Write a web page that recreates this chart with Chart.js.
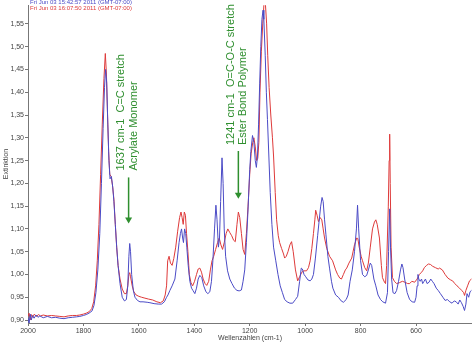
<!DOCTYPE html>
<html>
<head>
<meta charset="utf-8">
<script src="https://cdn.jsdelivr.net/npm/chart.js@4.4.1/dist/chart.umd.min.js"></script>
<style>
  html, body { margin: 0; padding: 0; background: #fff; }
  #wrap { width: 472px; height: 343px; }
</style>
</head>
<body>
<div id="wrap"><canvas id="myChart" width="472" height="343"></canvas></div>
<script>
// spectrum 1 (blue): wavenumber / absorbance
const wnBlue = [2000,1996,1992,1988,1984,1978,1971,1964,1957,1945,1930,1915,1900,1885,1870,1855,1840,1825,1813,1800,1790,1780,1769,1762,1755,1748,1741,1735,1729,1724,1720,1716,1712,1708,1704,1699,1694,1690,1685,1680,1675,1668,1660,1652,1645,1640,1636,1633,1630,1626,1620,1614,1605,1596,1585,1570,1560,1545,1530,1518,1508,1500,1495,1488,1480,1470,1462,1455,1450,1446,1442,1439,1435,1431,1427,1422,1416,1410,1405,1398,1392,1386,1380,1373,1366,1358,1351,1344,1338,1333,1327,1322,1318,1313,1309,1305,1300,1296,1292,1287,1280,1272,1264,1255,1246,1238,1230,1224,1218,1212,1207,1200,1196,1190,1185,1180,1176,1172,1168,1164,1160,1156,1152,1149,1144,1140,1136,1131,1126,1120,1114,1106,1098,1090,1082,1074,1065,1055,1045,1035,1027,1020,1014,1010,1004,998,990,982,976,970,963,955,950,944,939,935,930,925,918,912,905,900,890,880,870,862,852,845,838,830,822,815,811,807,800,793,785,778,772,765,760,752,745,737,728,720,710,703,699,695,692,688,683,676,670,663,656,651,647,641,632,623,614,605,600,596,593,590,585,580,576,571,566,560,553,547,541,535,527,520,512,503,495,487,478,470,462,455,448,442,436,430,425,420,416,410,405,400];
const absBlue = [0.905,0.893,0.913,0.900,0.910,0.904,0.911,0.906,0.909,0.905,0.908,0.905,0.906,0.904,0.903,0.905,0.906,0.907,0.908,0.910,0.912,0.915,0.920,0.932,0.960,1.010,1.090,1.200,1.320,1.410,1.450,1.420,1.330,1.250,1.210,1.215,1.190,1.160,1.110,1.060,1.020,0.980,0.950,0.942,0.945,0.975,1.040,1.068,1.050,1.000,0.965,0.950,0.943,0.940,0.940,0.939,0.938,0.936,0.935,0.935,0.940,0.950,0.955,0.965,0.975,0.990,1.030,1.070,1.090,1.100,1.080,1.070,1.100,1.090,1.060,1.020,0.985,0.970,0.965,0.958,0.970,0.990,0.998,0.993,0.975,0.962,0.958,0.962,0.985,1.030,1.100,1.152,1.120,1.060,1.080,1.160,1.256,1.200,1.100,1.040,1.008,0.990,0.980,0.970,0.965,0.964,0.966,0.985,1.010,1.070,1.131,1.230,1.270,1.305,1.290,1.250,1.235,1.260,1.330,1.420,1.500,1.560,1.580,1.560,1.480,1.400,1.340,1.260,1.180,1.110,1.060,1.030,1.000,0.975,0.960,0.945,0.940,0.937,0.937,0.945,0.952,0.985,1.014,1.012,1.000,0.995,0.988,0.986,0.990,1.000,1.036,1.085,1.115,1.150,1.169,1.160,1.120,1.087,1.040,1.014,0.985,0.970,0.955,0.950,0.942,0.939,0.945,0.955,0.985,1.010,1.050,1.100,1.152,1.100,1.030,1.000,0.995,0.998,1.010,1.025,1.020,0.990,0.975,0.955,0.945,0.940,0.937,0.960,1.050,1.144,1.060,0.990,0.960,0.958,0.965,0.985,1.010,1.023,1.015,0.990,0.960,0.945,0.940,0.939,0.950,0.975,1.000,0.990,0.985,0.990,0.980,0.985,0.990,0.980,0.983,0.990,0.985,0.980,0.970,0.965,0.958,0.950,0.943,0.945,0.940,0.937,0.942,0.940,0.935,0.944,0.938,0.930,0.921,0.935,0.958,0.950,0.962,0.965];

// spectrum 2 (red)
const wnRed = [2000,1996,1992,1988,1983,1977,1970,1962,1955,1945,1930,1915,1900,1885,1870,1855,1840,1825,1813,1800,1790,1780,1770,1763,1756,1750,1744,1738,1732,1726,1721,1717,1713,1709,1705,1700,1695,1690,1685,1680,1675,1668,1660,1652,1645,1640,1636,1633,1630,1624,1618,1610,1600,1590,1578,1565,1550,1535,1522,1512,1505,1500,1496,1491,1486,1480,1474,1467,1460,1453,1448,1444,1440,1436,1432,1428,1423,1418,1412,1406,1399,1392,1386,1380,1374,1368,1361,1355,1348,1342,1336,1330,1323,1316,1310,1304,1298,1292,1285,1279,1272,1265,1258,1252,1246,1241,1236,1230,1224,1218,1212,1206,1200,1195,1189,1185,1180,1175,1171,1167,1163,1158,1153,1148,1144,1139,1135,1130,1124,1118,1114,1108,1103,1097,1092,1085,1078,1074,1068,1062,1055,1049,1043,1035,1027,1020,1012,1005,995,988,982,976,970,965,962,957,952,946,940,935,930,922,912,901,890,883,875,869,862,855,850,842,832,822,814,810,805,798,793,785,778,772,765,757,750,745,740,732,725,721,713,710,706,700,697,695,693,690,685,678,670,660,649,640,630,623,615,605,596,588,580,576,570,562,555,548,540,530,520,515,505,495,485,475,468,460,452,443,435,428,425,420,414,407,400];
const absRed = [0.908,0.915,0.900,0.912,0.906,0.913,0.908,0.912,0.909,0.911,0.909,0.910,0.909,0.908,0.907,0.909,0.910,0.910,0.911,0.913,0.915,0.918,0.925,0.940,0.975,1.030,1.110,1.220,1.330,1.430,1.485,1.440,1.350,1.270,1.220,1.215,1.195,1.165,1.110,1.060,1.020,0.990,0.968,0.958,0.958,0.975,1.000,1.004,0.995,0.975,0.962,0.955,0.952,0.950,0.948,0.946,0.944,0.940,0.938,0.942,0.955,0.975,1.030,1.040,1.025,1.020,1.035,1.060,1.095,1.125,1.137,1.125,1.110,1.137,1.130,1.090,1.050,1.000,0.982,0.975,0.985,1.000,1.012,1.014,1.005,0.990,0.980,0.976,0.985,1.010,1.030,1.040,1.055,1.070,1.080,1.065,1.055,1.070,1.090,1.100,1.092,1.085,1.075,1.072,1.110,1.137,1.125,1.090,1.055,1.044,1.090,1.150,1.220,1.265,1.290,1.300,1.280,1.250,1.255,1.290,1.400,1.490,1.550,1.600,1.600,1.550,1.480,1.410,1.350,1.300,1.260,1.180,1.120,1.085,1.070,1.057,1.045,1.036,1.040,1.050,1.065,1.072,1.050,1.010,0.986,0.995,1.005,1.008,1.008,1.015,1.030,1.057,1.090,1.120,1.141,1.130,1.116,1.125,1.120,1.100,1.080,1.057,1.040,1.030,1.010,1.000,0.992,0.990,1.000,1.010,1.014,1.025,1.036,1.065,1.080,1.079,1.060,1.040,1.030,1.015,1.008,1.025,1.060,1.100,1.115,1.120,1.110,1.080,1.020,0.993,0.982,0.980,1.020,1.150,1.250,1.308,1.200,1.060,0.993,0.985,0.980,0.982,0.985,0.983,0.980,0.980,0.985,0.983,0.990,1.000,1.005,1.008,1.015,1.020,1.023,1.022,1.018,1.015,1.012,1.014,1.010,1.000,0.992,0.988,0.986,0.980,0.975,0.970,0.965,0.960,0.954,0.965,0.975,0.986,0.990];

const seriesNames = ['Fri Jun 03 15:42:57 2011 (GMT-07:00)', 'Fri Jun 03 16:07:50 2011 (GMT-07:00)'];
const seriesColors = ['#4b4bc6', '#de3a3a'];

const xTicks = [2000, 1800, 1600, 1400, 1200, 1000, 800, 600];
const yTicks = [0.90, 0.95, 1.00, 1.05, 1.10, 1.15, 1.20, 1.25, 1.30, 1.35, 1.40, 1.45, 1.50, 1.55];

// annotations: wavenumber, arrow top / bottom, text lines
const notes = [
    { wn: 1637, top: 1.213, tip: 1.112, textAt: 1.228, lines: ['1637 cm-1  C=C stretch', 'Acrylate Monomer'] },
    { wn: 1241, top: 1.271, tip: 1.166, textAt: 1.284, lines: ['1241 cm-1  O=C-O-C stretch', 'Ester Bond Polymer'] }
];

const toPoints = (xs, ys) => xs.map((x, i) => ({ x: x, y: ys[i] }));

const overlay = {
    id: 'overlay',
    afterDraw(chart) {
        const ctx = chart.ctx;
        const xs = chart.scales.x, ys = chart.scales.y;
        ctx.save();
        // header lines
        ctx.font = '6px "Liberation Sans", Arial, sans-serif';
        ctx.textAlign = 'left';
        ctx.textBaseline = 'middle';
        seriesNames.forEach((n, i) => {
            ctx.fillStyle = seriesColors[i];
            ctx.fillText(n, 30, 2 + i * 6);
        });
        // notes
        const green = '#2f8f2f';
        notes.forEach(n => {
            const px = xs.getPixelForValue(n.wn);
            ctx.strokeStyle = green;
            ctx.fillStyle = green;
            ctx.lineWidth = 1.5;
            const y0 = ys.getPixelForValue(n.top), y1 = ys.getPixelForValue(n.tip);
            ctx.beginPath();
            ctx.moveTo(px, y0);
            ctx.lineTo(px, y1 - 5);
            ctx.stroke();
            ctx.beginPath();
            ctx.moveTo(px - 3.5, y1 - 6);
            ctx.lineTo(px + 3.5, y1 - 6);
            ctx.lineTo(px, y1);
            ctx.closePath();
            ctx.fill();
            const ty = ys.getPixelForValue(n.textAt);
            ctx.font = '11px "Liberation Sans", Arial, sans-serif';
            ctx.textAlign = 'left';
            ctx.textBaseline = 'middle';
            n.lines.forEach((t, i) => {
                ctx.save();
                ctx.translate(px - 7.5 + i * 12.5, ty);
                ctx.rotate(-Math.PI / 2);
                ctx.fillText(t, 0, 0);
                ctx.restore();
            });
        });
        ctx.restore();
    }
};

const tickFont = { family: '"Liberation Sans", Arial, sans-serif', size: 7 };

new Chart(document.getElementById('myChart'), {
    type: 'line',
    data: {
        datasets: [
            { label: seriesNames[0], data: toPoints(wnBlue, absBlue), borderColor: seriesColors[0], borderWidth: 1, pointRadius: 0, tension: 0 },
            { label: seriesNames[1], data: toPoints(wnRed, absRed), borderColor: seriesColors[1], borderWidth: 1, pointRadius: 0, tension: 0 }
        ]
    },
    options: {
        responsive: false,
        animation: false,
        layout: { padding: 0 },
        plugins: { legend: { display: false }, tooltip: { enabled: false } },
        scales: {
            x: {
                type: 'linear',
                reverse: true,
                min: 398,
                max: 2000,
                afterFit: s => { s.height = 20; },
                afterBuildTicks: s => { s.ticks = xTicks.map(v => ({ value: v })); },
                grid: { drawOnChartArea: false, tickLength: 3, color: '#777' },
                border: { color: '#777' },
                ticks: { color: '#444', font: tickFont, padding: 1, maxRotation: 0, callback: v => String(v) },
                title: { display: true, text: 'Wellenzahlen (cm-1)', color: '#444', font: tickFont, padding: { top: 0, bottom: 1 } }
            },
            y: {
                min: 0.8935,
                max: 1.591,
                afterFit: s => { s.width = 28; },
                afterBuildTicks: s => { s.ticks = yTicks.map(v => ({ value: v })); },
                grid: { drawOnChartArea: false, tickLength: 3, color: '#777' },
                border: { color: '#777' },
                ticks: { color: '#444', font: tickFont, padding: 1, callback: v => v.toFixed(2).replace('.', ',') },
                title: { display: true, text: 'Extinktion', color: '#444', font: tickFont, padding: { top: 2, bottom: 0 } }
            }
        }
    },
    plugins: [overlay]
});
</script>
</body>
</html>
